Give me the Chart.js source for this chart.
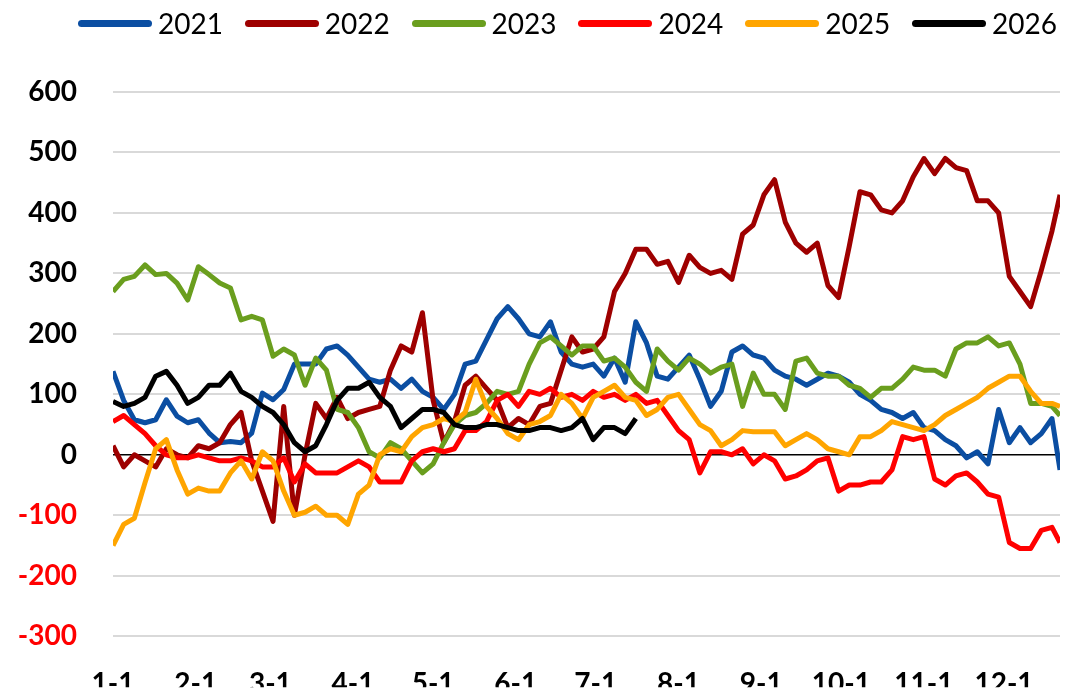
<!DOCTYPE html>
<html>
<head>
<meta charset="utf-8">
<script src="https://cdn.jsdelivr.net/npm/chart.js@4"></script>
<style>
    html, body { margin: 0; padding: 0; background: #fff; overflow: hidden; }
    #wrap { position: relative; width: 1067px; height: 689px; }
    #legend { position: absolute; left: 0; top: 0; width: 1067px; height: 46px; font-family: Lato, sans-serif; }
    .item { position: absolute; top: 6px; height: 34px; display: flex; align-items: center; }
    .swatch { width: 74px; height: 7px; border-radius: 4px; margin-right: 6px; }
    .label { font-size: 28px; color: #000; line-height: 34px; }
</style>
</head>
<body>
<div id="wrap">
    <div id="legend"></div>
    <canvas id="chart" width="1067" height="689"></canvas>
</div>
<script>
// day of year for each sample (0 = Jan 1)
const days = [0, 4, 8, 12, 16, 20, 24, 28, 32, 36, 40, 44, 48, 52, 56, 60, 64, 68, 72, 76,
    80, 84, 88, 92, 96, 100, 104, 108, 112, 116, 120, 124, 128, 132, 136, 140, 144, 148, 152, 156,
    160, 164, 168, 172, 176, 180, 184, 188, 192, 196, 200, 204, 208, 212, 216, 220, 224, 228, 232, 236,
    240, 244, 248, 252, 256, 260, 264, 268, 272, 276, 280, 284, 288, 292, 296, 300, 304, 308, 312, 316,
    320, 324, 328, 332, 336, 340, 344, 348, 352, 355];

const monthStarts = [0, 31, 59, 90, 120, 151, 181, 212, 243, 273, 304, 334];
const tickLabels = ['1-1', '2-1', '3-1', '4-1', '5-1', '6-1', '7-1', '8-1', '9-1', '10-1', '11-1', '12-1'];

const years = ['2021', '2022', '2023', '2024', '2025', '2026'];
const colors = ['#0B4EA2', '#9E0000', '#6A9E1E', '#FF0000', '#FFA500', '#000000'];

const y2021 = [138, 90, 58, 53, 58, 91, 64, 53, 58, 36,
    20, 22, 20, 36, 102, 91, 108, 150, 150, 150,
    175, 180, 165, 145, 125, 120, 125, 110, 125, 105,
    95, 75, 100, 150, 155, 190, 225, 245, 225, 200,
    195, 220, 170, 150, 145, 150, 130, 160, 120, 220,
    185, 130, 125, 145, 165, 125, 80, 105, 170, 180,
    165, 160, 140, 130, 125, 115, 125, 135, 130, 120,
    100, 90, 75, 70, 60, 70, 45, 40, 25, 15,
    -5, 5, -15, 75, 20, 45, 20, 35, 60, -25];

const y2022 = [15, -20, 0, -10, -20, 10, 0, -5, 15, 10,
    20, 50, 70, -10, -60, -110, 80, -100, 0, 85,
    60, 95, 60, 70, 75, 80, 140, 180, 170, 235,
    90, 20, 55, 115, 130, 110, 90, 45, 60, 50,
    80, 85, 140, 195, 170, 175, 195, 270, 300, 340,
    340, 315, 320, 285, 330, 310, 300, 305, 290, 365,
    380, 430, 455, 385, 350, 335, 350, 280, 260, 345,
    435, 430, 405, 400, 420, 460, 490, 465, 490, 475,
    470, 420, 420, 400, 295, 270, 245, 305, 370, 430];

const y2023 = [270, 290, 295, 314, 298, 300, 284, 256, 311, 298,
    284, 276, 223, 229, 223, 163, 175, 165, 115, 160,
    140, 75, 70, 45, 5, -5, 20, 10, -10, -30,
    -15, 20, 50, 65, 70, 85, 105, 100, 105, 150,
    185, 195, 180, 165, 180, 180, 155, 160, 145, 120,
    105, 175, 155, 140, 160, 150, 135, 145, 150, 80,
    135, 100, 100, 75, 155, 160, 135, 130, 130, 115,
    110, 95, 110, 110, 125, 145, 140, 140, 130, 175,
    185, 185, 195, 180, 185, 150, 85, 85, 80, 65];

const y2024 = [55, 65, 50, 35, 15, 0, -5, -5, 0, -5,
    -10, -10, -5, -10, -20, -20, -5, -45, -15, -30,
    -30, -30, -20, -10, -20, -45, -45, -45, -10, 5,
    10, 5, 10, 40, 40, 55, 90, 100, 80, 105,
    100, 110, 95, 100, 90, 105, 95, 100, 90, 100,
    85, 90, 65, 40, 25, -30, 5, 5, 0, 10,
    -15, 0, -10, -40, -35, -25, -10, -5, -60, -50,
    -50, -45, -45, -25, 30, 25, 30, -40, -50, -35,
    -30, -45, -65, -70, -145, -155, -155, -125, -120, -145];

const y2025 = [-150, -115, -105, -46, 10, 25, -25, -65, -55, -60,
    -60, -30, -10, -40, 5, -10, -60, -100, -95, -85,
    -100, -100, -115, -65, -50, 0, 10, 5, 30, 45,
    50, 60, 55, 70, 125, 80, 60, 35, 25, 50,
    55, 65, 100, 85, 60, 95, 105, 115, 95, 90,
    65, 75, 95, 100, 75, 50, 40, 15, 25, 40,
    38, 38, 38, 15, 25, 35, 25, 10, 5, 0,
    30, 30, 40, 55, 50, 45, 40, 50, 65, 75,
    85, 95, 110, 120, 130, 130, 105, 85, 85, 80];

const y2026 = [88, 80, 85, 95, 130, 138, 115, 85, 95, 115,
    115, 135, 105, 95, 80, 70, 50, 20, 5, 15,
    50, 90, 110, 110, 120, 95, 80, 45, 60, 75,
    75, 70, 50, 45, 45, 50, 50, 45, 40, 40,
    45, 45, 40, 45, 60, 25, 45, 45, 35, 60];

const series = [y2021, y2022, y2023, y2024, y2025, y2026];

// html legend
let legend = document.getElementById('legend');
years.forEach((yr, i) => {
    let item = document.createElement('div');
    item.className = 'item';
    item.style.left = (78 + i * 166.8) + 'px';
    item.innerHTML = '<span class="swatch" style="background:' + colors[i] + '"></span><span class="label">' + yr + '</span>';
    legend.appendChild(item);
});

const tickFont = { family: 'Lato, sans-serif', size: 28, weight: 'bold' };

let ctx = document.getElementById('chart');

let seasonalChart = new Chart(ctx, {
    type: 'line',
    data: {
        datasets: series.map((vals, i) => ({
            label: years[i],
            data: vals.map((v, j) => ({ x: days[j], y: v })),
            borderColor: colors[i],
            backgroundColor: colors[i],
            borderWidth: 5,
            pointRadius: 0,
            tension: 0,
            borderJoinStyle: 'round',
            order: years.length - i
        }))
    },
    options: {
        responsive: false,
        animation: false,
        layout: { padding: { top: 92, right: 7, left: 0, bottom: 0 } },
        plugins: {
            legend: { display: false },
            tooltip: { enabled: false }
        },
        scales: {
            x: {
                type: 'linear',
                min: 0,
                max: 355,
                afterBuildTicks: function(axis) {
                    axis.ticks = monthStarts.map(v => ({ value: v }));
                },
                afterFit: function(axis) {
                    axis.height = 51;
                },
                ticks: {
                    autoSkip: false,
                    maxRotation: 0,
                    padding: 23,
                    color: '#000',
                    font: tickFont,
                    callback: function(value) {
                        return tickLabels[monthStarts.indexOf(value)];
                    }
                },
                grid: { display: false },
                border: { display: false }
            },
            y: {
                min: -300,
                max: 600,
                afterFit: function(axis) {
                    axis.width = 113;
                },
                ticks: {
                    stepSize: 100,
                    padding: 36,
                    font: tickFont,
                    color: function(c) {
                        return c.tick.value < 0 ? '#FF0000' : '#000';
                    }
                },
                grid: {
                    drawTicks: false,
                    color: function(c) {
                        return c.tick.value === 0 ? '#000' : '#D9D9D9';
                    },
                    lineWidth: function(c) {
                        return c.tick.value === 0 ? 1.5 : 2;
                    }
                },
                border: { display: false }
            }
        }
    }
});
</script>
</body>
</html>
